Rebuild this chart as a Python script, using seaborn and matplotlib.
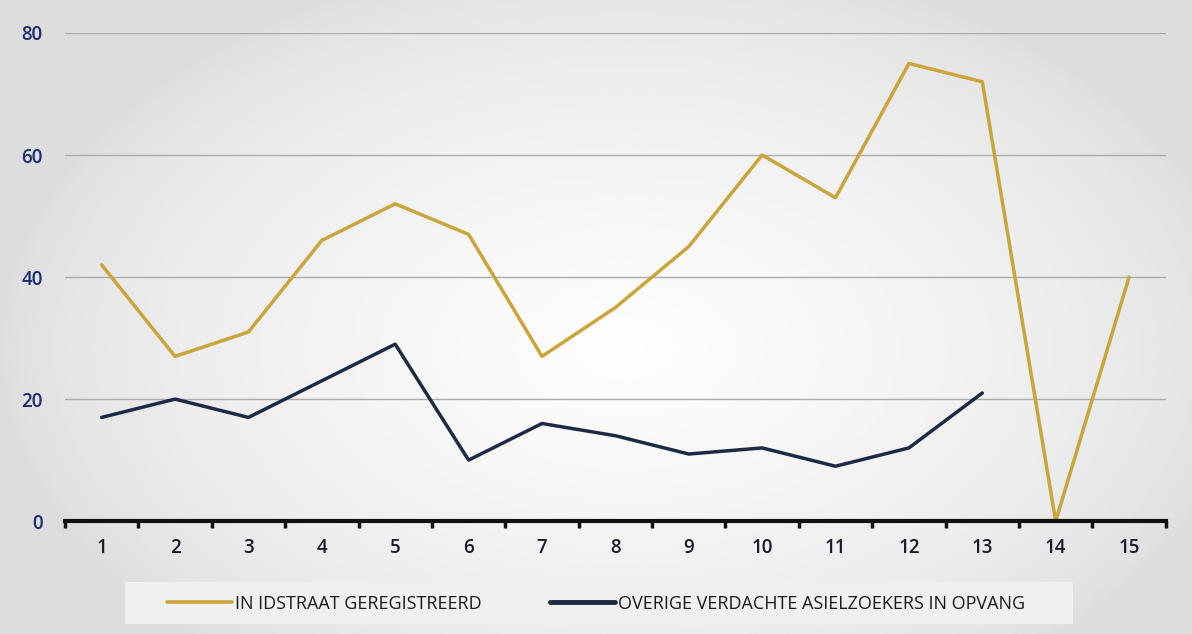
import pandas as pd
import numpy as np
import matplotlib.pyplot as plt
import seaborn as sns
from matplotlib.ticker import FixedLocator

# Data
weeks = list(range(1, 16))
idstraat = [42, 27, 31, 46, 52, 47, 27, 35, 45, 60, 53, 75, 72, 0, 40]
overige = [17, 20, 17, 23, 29, 10, 16, 14, 11, 12, 9, 12, 21]

label_a = 'IN IDSTRAAT GEREGISTREERD'
label_b = 'OVERIGE VERDACHTE ASIELZOEKERS IN OPVANG'

df = pd.concat([
    pd.DataFrame({'week': weeks, 'aantal': idstraat, 'reeks': label_a}),
    pd.DataFrame({'week': weeks[:len(overige)], 'aantal': overige, 'reeks': label_b}),
])

sns.set_style('white')
plt.rcParams['font.family'] = ['Open Sans', 'DejaVu Sans']

gold = '#c9a53a'
navy = '#1c2a44'

fig = plt.figure(figsize=(11.92, 6.34), dpi=100, facecolor='#e2e2e0')

# soft light in the middle of the scanned page, grey towards the edges
bg = fig.add_axes([0, 0, 1, 1], zorder=-10)
gx, gy = np.meshgrid(np.linspace(-1, 1, 400), np.linspace(-1, 1, 220))
dist = np.sqrt(((gx - 0.05) / 1.05) ** 2 + ((gy - 0.1) / 1.25) ** 2)
shade = np.clip(1 - dist, 0, 1) ** 0.6
bg.imshow(0.865 + 0.13 * shade, cmap='gray', vmin=0, vmax=1, aspect='auto',
          extent=[0, 1, 0, 1], interpolation='bilinear')
bg.axis('off')

ax = fig.add_axes([0.0545, 0.178, 0.9235, 0.77])
ax.patch.set_alpha(0)

sns.lineplot(data=df, x='week', y='aantal', hue='reeks',
             palette={label_a: gold, label_b: navy}, linewidth=2.5,
             ax=ax, legend=False)

ax.set_xlim(0.5, 15.5)
ax.set_ylim(0, 80)
ax.set_yticks([0, 20, 40, 60, 80])
ax.yaxis.grid(True, color='#ababab', linewidth=1)
ax.set_axisbelow(True)

# category labels at integers, tick marks between them
ax.set_xticks(weeks)
ax.xaxis.set_minor_locator(FixedLocator(np.arange(0.5, 16, 1)))
ax.tick_params(axis='x', which='both', bottom=True)
ax.tick_params(axis='x', which='major', length=0, pad=12, labelsize=13.5, labelcolor='#1a1a2a')
ax.tick_params(axis='x', which='minor', length=5, width=2.5, color='#111111', direction='out')
ax.tick_params(axis='y', length=0, pad=16, labelsize=13.5, labelcolor='#1a2c6e')
for lab in ax.get_xticklabels() + ax.get_yticklabels():
    lab.set_fontweight('semibold')

for s in ['top', 'right', 'left']:
    ax.spines[s].set_visible(False)
ax.spines['bottom'].set_color('#111111')
ax.spines['bottom'].set_linewidth(3)
ax.set_xlabel('')
ax.set_ylabel('')

# legend in a lighter band under the axis
band = plt.Rectangle((0.105, 0.015), 0.795, 0.067, transform=fig.transFigure,
                     facecolor='#f0f0ee', edgecolor='none', zorder=0)
fig.patches.append(band)
handles = [plt.Line2D([], [], color=gold, linewidth=2.6),
           plt.Line2D([], [], color=navy, linewidth=3.5)]
fig.legend(handles, [label_a, label_b], loc='center', bbox_to_anchor=(0.5, 0.048),
           ncol=2, frameon=False, fontsize=13, handlelength=3.6,
           handletextpad=0.15, columnspacing=3.8, labelcolor='#1a1a1a')

fig.savefig('out.png', dpi=100, facecolor=fig.get_facecolor())
